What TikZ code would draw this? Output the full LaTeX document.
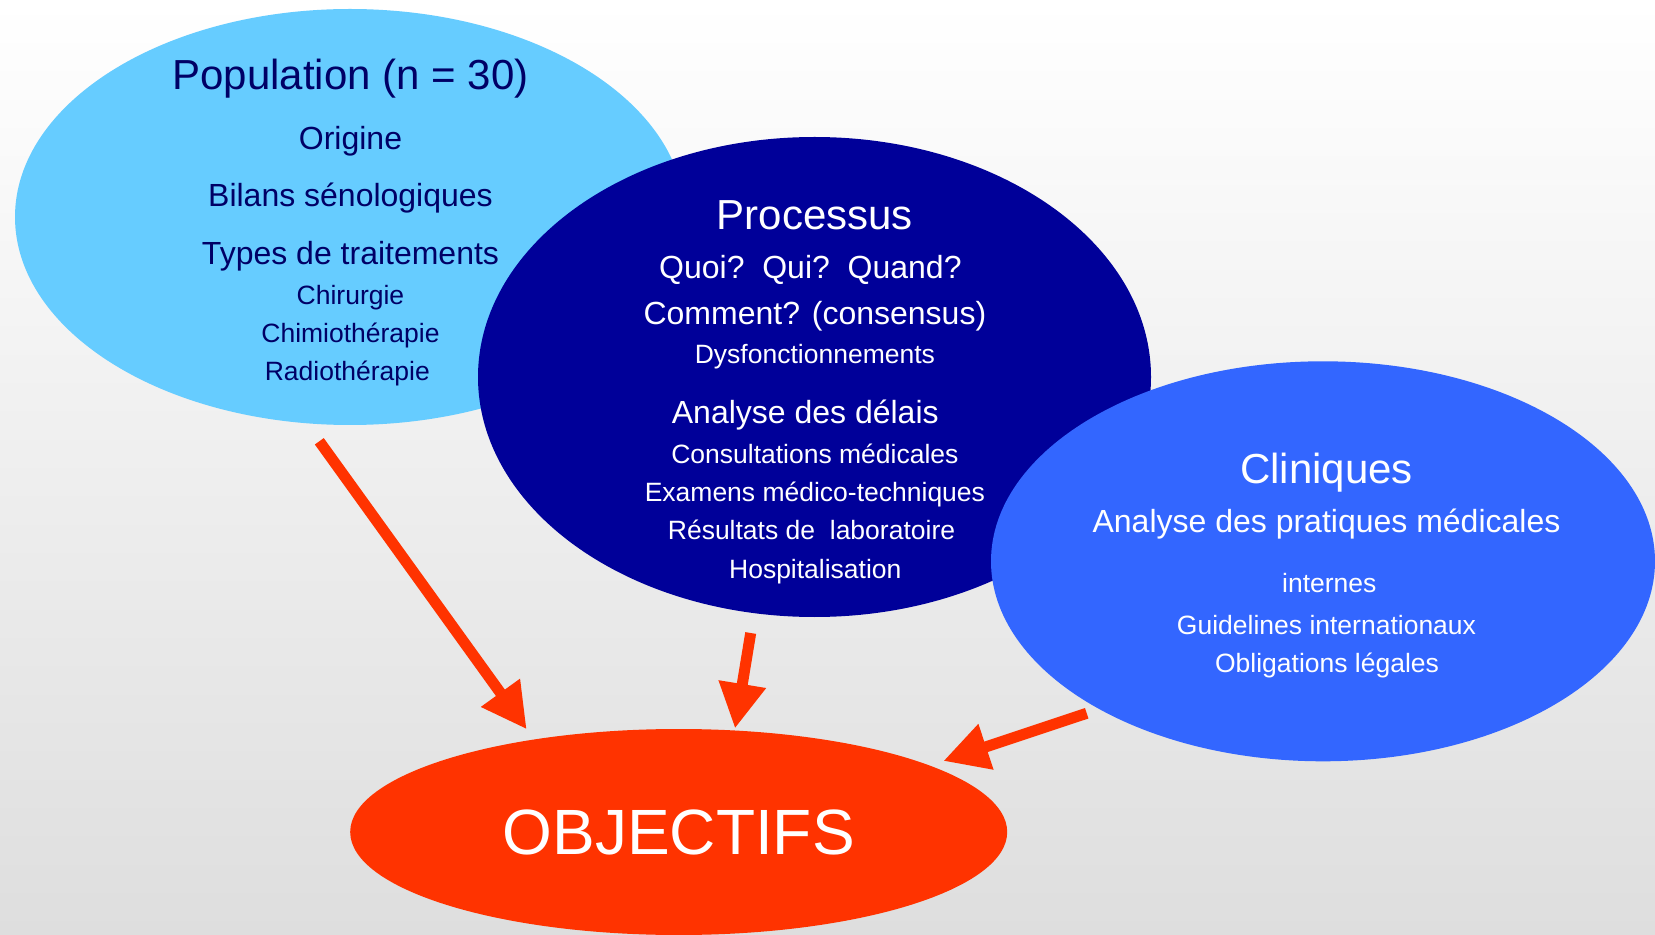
\documentclass[tikz,border=0pt]{standalone}
\usepackage{fontspec}
\setmainfont{Liberation Sans}
\usetikzlibrary{shapes.geometric,arrows.meta}

\definecolor{popblue}{HTML}{66CCFF}
\definecolor{procblue}{HTML}{000099}
\definecolor{clinblue}{HTML}{3366FF}
\definecolor{objred}{HTML}{FF3300}
\definecolor{navytext}{HTML}{000066}

\begin{document}
\begin{tikzpicture}[x=0.5pt,y=-0.5pt,>={Triangle[length=22.5pt,width=22.5pt]},
  blob/.style={ellipse, inner sep=0pt},
  big/.style={anchor=base, font=\fontsize{21}{25}\selectfont},
  mid/.style={anchor=base, font=\fontsize{16}{19}\selectfont},
  small/.style={anchor=base, font=\fontsize{13.25}{16}\selectfont},
  arrow/.style={->, objred, line width=5.5pt}]
  \shade[top color=white, bottom color={rgb,255:red,222;green,222;blue,222}] (0,0) rectangle (1655,935);
  \useasboundingbox (0,0) rectangle (1655,935);

  % the three circles
  \node (pop)  [blob, fill=popblue, minimum width=335pt, minimum height=208pt] at (350,217) {};
  \node (proc) [blob, fill=procblue, minimum width=336.5pt, minimum height=240pt] at (814.5,377) {};
  \node (clin) [blob, fill=clinblue, minimum width=332pt, minimum height=200pt] at (1323,561.3) {};
  \node (obj)  [blob, fill=objred, text=white, minimum width=328.5pt, minimum height=103pt,
                font=\fontsize{32}{38}\selectfont] at (678.7,832) {OBJECTIFS};

  % population
  \node (popT) [big, text=navytext] at (350.5,89.3) {Population (n = 30)};
  \node (popA) [mid, text=navytext] at (350.5,150)  {Origine};
  \node (popB) [mid, text=navytext] at (350.5,206.7) {Bilans sénologiques};
  \node (popC) [mid, text=navytext] at (350.5,265)  {Types de traitements};
  \node (popD) [small, text=navytext] at (350.5,304.3) {Chirurgie};
  \node (popE) [small, text=navytext] at (350.5,342.7) {Chimiothérapie};
  \node (popF) [small, text=navytext] at (347.3,381)  {Radiothérapie};

  % processus
  \node (procT) [big, text=white] at (814.9,229.3) {Processus};
  \node (procA) [mid, text=white] at (810.4,278.3) {Quoi?~~Qui?~~Quand?};
  \node (procB) [mid, text=white] at (814.9,324.3) {Comment? (consensus)};
  \node (procC) [small, text=white] at (814.9,363.3) {Dysfonctionnements};
  \node (procD) [mid, text=white] at (805.3,424)   {Analyse des délais};
  \node (procE) [small, text=white] at (814.9,464)   {Consultations médicales};
  \node (procF) [small, text=white] at (814.9,501.7) {Examens médico-techniques};
  \node (procG) [small, text=white] at (811.5,539.3) {Résultats de~~laboratoire};
  \node (procH) [small, text=white] at (815.3,578.3) {Hospitalisation};

  % cliniques
  \node (clinT) [big, text=white] at (1326.5,484)   {Cliniques};
  \node (clinA) [mid, text=white] at (1326.5,532.7) {Analyse des pratiques médicales};
  \node (clinB) [small, text=white] at (1329.3,592.3) {internes};
  \node (clinC) [small, text=white] at (1326.5,634)   {Guidelines internationaux};
  \node (clinD) [small, text=white] at (1327,672.7)   {Obligations légales};

  % arrows
  \coordinate (popOut)  at (319.3,441.3);
  \coordinate (objInA)  at (526.7,729.3);
  \coordinate (procOut) at (750.7,633);
  \coordinate (objInB)  at (735,728.5);
  \coordinate (clinOut) at (1086.7,713.3);
  \coordinate (objInC)  at (943.3,761);
  \draw[arrow] (popOut) -- (objInA);
  \draw[arrow] (procOut) -- (objInB);
  \draw[arrow] (clinOut) -- (objInC);
\end{tikzpicture}
\end{document}
